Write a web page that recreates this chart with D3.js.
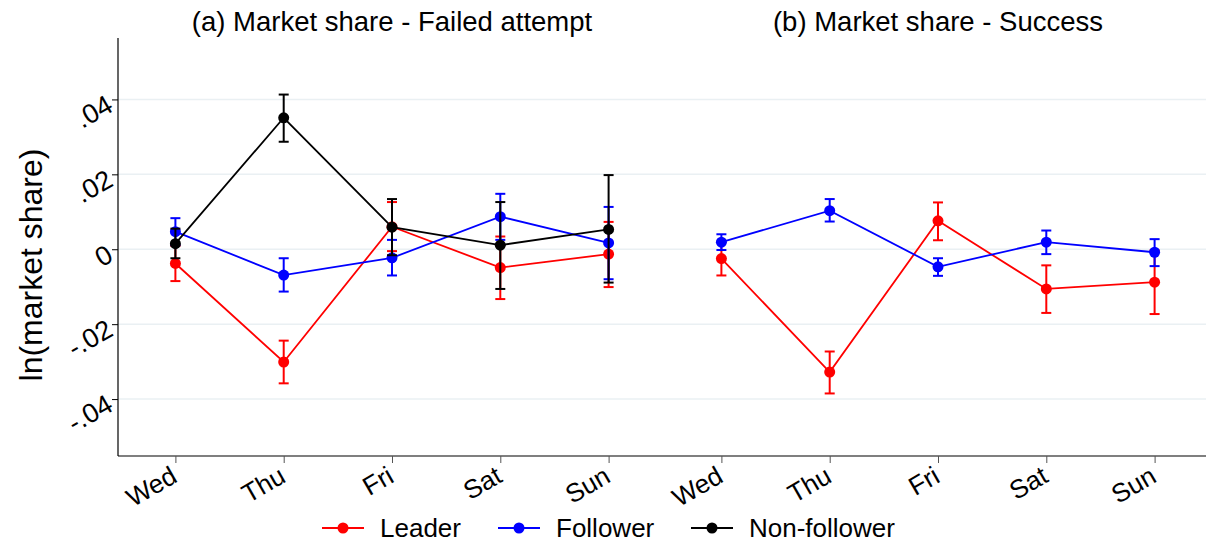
<!DOCTYPE html>
<html>
<head>
<meta charset="utf-8">
<script src="https://cdn.jsdelivr.net/npm/d3@7"></script>
<style>
body { margin: 0; background: #fff; }
text { font-family: "Liberation Sans", Arial, sans-serif; }
</style>
</head>
<body>
<svg id="chart" width="1206" height="545"></svg>
<script>
// categories
var days = ["Wed", "Thu", "Fri", "Sat", "Sun"];
var yTicks = [-0.04, -0.02, 0, 0.02, 0.04];
var yTickLabels = ["-.04", "-.02", "0", ".02", ".04"];
var panelTitles = ["(a) Market share - Failed attempt", "(b) Market share - Success"];
var seriesNames = ["Leader", "Follower", "Non-follower"];
var seriesColors = ["#ff0000", "#0000ff", "#000000"];

// (a) failed attempt
var failLeader = [-0.0038, -0.0301, 0.0060, -0.0049, -0.0013];
var failLeaderLo = [-0.0085, -0.0358, -0.0005, -0.0133, -0.0101];
var failLeaderHi = [0.0009, -0.0244, 0.0126, 0.0034, 0.0073];
var failFollower = [0.0047, -0.0069, -0.0023, 0.0087, 0.0017];
var failFollowerLo = [0.0011, -0.0113, -0.0070, 0.0025, -0.0080];
var failFollowerHi = [0.0083, -0.0024, 0.0025, 0.0148, 0.0113];
var failNon = [0.0015, 0.0351, 0.0059, 0.0011, 0.0053];
var failNonLo = [-0.0024, 0.0287, -0.0016, -0.0106, -0.0089];
var failNonHi = [0.0055, 0.0413, 0.0134, 0.0126, 0.0198];

// (b) success
var succLeader = [-0.0025, -0.0328, 0.0076, -0.0106, -0.0088];
var succLeaderLo = [-0.0070, -0.0385, 0.0024, -0.0170, -0.0173];
var succLeaderHi = [0.0020, -0.0273, 0.0125, -0.0043, -0.0003];
var succFollower = [0.0019, 0.0103, -0.0047, 0.0019, -0.0008];
var succFollowerLo = [-0.0002, 0.0074, -0.0071, -0.0013, -0.0045];
var succFollowerHi = [0.0040, 0.0134, -0.0024, 0.0050, 0.0027];

var panels = [
	{title: panelTitles[0], range: [118, 666], series: [
		{color: seriesColors[0], v: failLeader, lo: failLeaderLo, hi: failLeaderHi},
		{color: seriesColors[1], v: failFollower, lo: failFollowerLo, hi: failFollowerHi},
		{color: seriesColors[2], v: failNon, lo: failNonLo, hi: failNonHi}]},
	{title: panelTitles[1], range: [664, 1212], series: [
		{color: seriesColors[0], v: succLeader, lo: succLeaderLo, hi: succLeaderHi},
		{color: seriesColors[1], v: succFollower, lo: succFollowerLo, hi: succFollowerHi}]}
];

var svg = d3.select("#chart");
var plotTop = 38, plotBottom = 456, plotLeft = 118, plotRight = 1206;

var y = d3.scaleLinear().domain([-0.0552, 0.0564]).range([plotBottom, plotTop]);

// gridlines
svg.append("g").selectAll("line").data(yTicks).join("line")
	.attr("x1", plotLeft).attr("x2", plotRight)
	.attr("y1", function(d) { return y(d); }).attr("y2", function(d) { return y(d); })
	.attr("stroke", "#eaf0f3").attr("stroke-width", 1.5);

// y axis
var yAxis = svg.append("g").attr("transform", "translate(" + plotLeft + ",0)")
	.call(d3.axisLeft(y).tickValues(yTicks).tickSize(6).tickFormat(function(d, i) { return yTickLabels[i]; }));
yAxis.select(".domain").attr("d", "M0," + plotTop + "V" + plotBottom).attr("stroke", "#000").attr("stroke-width", 1.2);
yAxis.selectAll(".tick line").attr("stroke", "#000");
yAxis.selectAll(".tick text")
	.attr("font-size", 27).attr("fill", "#000")
	.attr("x", 0).attr("y", 0).attr("dy", "0.35em")
	.attr("text-anchor", "end")
	.attr("transform", "translate(-8,2) rotate(-30)");

// x axis baseline
svg.append("line").attr("x1", plotLeft).attr("x2", plotRight).attr("y1", plotBottom).attr("y2", plotBottom)
	.attr("stroke", "#000").attr("stroke-width", 1.2);

// y title
svg.append("text")
	.attr("transform", "translate(42,265) rotate(-90)")
	.attr("text-anchor", "middle").attr("font-size", 32)
	.text("ln(market share)");

panels.forEach(function(p) {
	var x = d3.scaleLinear().domain([-0.53, 4.53]).range(p.range);
	var g = svg.append("g");

	g.append("text")
		.attr("x", (p.range[0] + p.range[1]) / 2).attr("y", 31)
		.attr("text-anchor", "middle").attr("font-size", 27.5)
		.text(p.title);

	var xa = g.append("g").attr("transform", "translate(0," + plotBottom + ")")
		.call(d3.axisBottom(x).tickValues(d3.range(days.length)).tickSize(7).tickFormat(function(d) { return days[d]; }));
	xa.select(".domain").remove();
	xa.selectAll(".tick line").attr("stroke", "#555");
	xa.selectAll(".tick text")
		.attr("font-size", 26).attr("fill", "#000")
		.attr("y", 0).attr("dy", 0)
		.attr("text-anchor", "end")
		.attr("transform", "translate(3,25) rotate(-30)");

	p.series.forEach(function(s) {
		var sg = g.append("g");
		var idx = d3.range(days.length);
		sg.selectAll("line.err").data(idx).join("line").attr("class", "err")
			.attr("x1", function(i) { return x(i); }).attr("x2", function(i) { return x(i); })
			.attr("y1", function(i) { return y(s.lo[i]); }).attr("y2", function(i) { return y(s.hi[i]); })
			.attr("stroke", s.color).attr("stroke-width", 2);
		["lo", "hi"].forEach(function(k) {
			sg.selectAll("line.cap" + k).data(idx).join("line").attr("class", "cap" + k)
				.attr("x1", function(i) { return x(i) - 5; }).attr("x2", function(i) { return x(i) + 5; })
				.attr("y1", function(i) { return y(s[k][i]); }).attr("y2", function(i) { return y(s[k][i]); })
				.attr("stroke", s.color).attr("stroke-width", 2);
		});
		sg.append("path")
			.attr("d", d3.line().x(function(i) { return x(i); }).y(function(i) { return y(s.v[i]); })(idx))
			.attr("fill", "none").attr("stroke", s.color).attr("stroke-width", 1.8);
		sg.selectAll("circle").data(idx).join("circle")
			.attr("cx", function(i) { return x(i); }).attr("cy", function(i) { return y(s.v[i]); })
			.attr("r", 5.5).attr("fill", s.color);
	});
});

// legend
var legX = [322, 498, 691];
var lg = svg.append("g");
seriesNames.forEach(function(n, i) {
	var gx = legX[i];
	lg.append("line").attr("x1", gx).attr("x2", gx + 42).attr("y1", 528).attr("y2", 528)
		.attr("stroke", seriesColors[i]).attr("stroke-width", 2);
	lg.append("circle").attr("cx", gx + 21).attr("cy", 528).attr("r", 5.5).attr("fill", seriesColors[i]);
	lg.append("text").attr("x", gx + 58).attr("y", 537).attr("font-size", 26).text(n);
});
</script>
</body>
</html>
